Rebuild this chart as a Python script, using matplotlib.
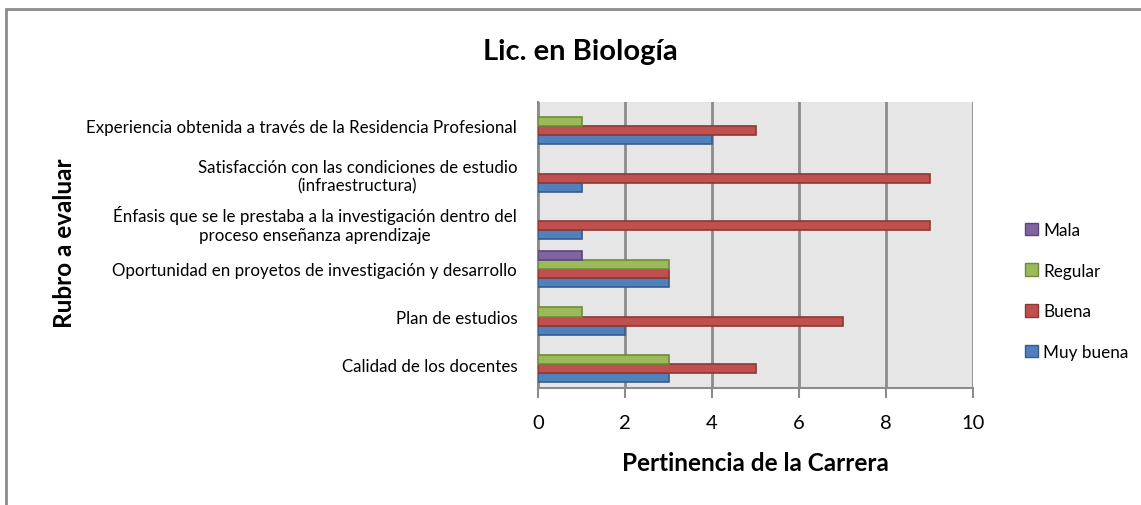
import numpy as np
import matplotlib.pyplot as plt
from matplotlib.patches import Patch

categories = [
    'Calidad de los docentes',
    'Plan de estudios',
    'Oportunidad en proyetos de investigación y desarrollo',
    'Énfasis que se le prestaba a la investigación dentro del\nproceso enseñanza aprendizaje',
    'Satisfacción con las condiciones de estudio\n(infraestructura)',
    'Experiencia obtenida a través de la Residencia Profesional',
]
muy_buena = [3, 2, 3, 1, 1, 4]
buena = [5, 7, 3, 9, 9, 5]
regular = [3, 1, 3, 0, 0, 1]
mala = [0, 0, 1, 0, 0, 0]

series = [
    ('Muy buena', muy_buena, '#4F81BD', '#385D8A'),
    ('Buena', buena, '#C0504D', '#8C3836'),
    ('Regular', regular, '#9BBB59', '#71893F'),
    ('Mala', mala, '#8064A2', '#5C4776'),
]

plt.rcParams['font.family'] = ['Lato', 'DejaVu Sans']

fig = plt.figure(figsize=(11.41, 5.06), dpi=100)
# outer chart border (only left and top visible in reference)
fig.add_artist(plt.Rectangle((6 / 1141, -0.1), 1.2, 1 - 10 / 506 + 0.1,
                             transform=fig.transFigure, fill=False,
                             edgecolor='#8c8c8c', linewidth=2))

ax = fig.add_axes([538 / 1141, 1 - 389 / 506, 435 / 1141, 286 / 506])
ax.set_facecolor('#E6E6E6')

y = np.arange(len(categories))
h = 0.19
for i, (name, vals, col, edge) in enumerate(series):
    lw = [1.2 if v else 0 for v in vals]
    ax.barh(y + (i - 1.5) * h, vals, height=h, color=col, edgecolor=edge,
            linewidth=lw, label=name, zorder=3)

ax.set_xlim(0, 10)
ax.set_ylim(-0.5, len(categories) - 0.5)
ax.set_xticks(range(0, 11, 2))
ax.set_yticks(y)
ax.set_yticklabels(categories, fontsize=12.2, multialignment='center')
ax.tick_params(axis='y', length=0, pad=15)
ax.tick_params(axis='x', labelsize=14.5, length=7, width=1.5, color='#8c8c8c', pad=12)
ax.grid(axis='x', color='#8c8c8c', linewidth=2, zorder=1)
for s in ['top', 'right']:
    ax.spines[s].set_visible(False)
for s in ['left', 'bottom']:
    ax.spines[s].set_color('#8c8c8c')
    ax.spines[s].set_linewidth(1.5)

ax.set_xlabel('Pertinencia de la Carrera', fontsize=17.5, fontweight='bold', labelpad=14)
fig.text(65 / 1141, 1 - 243 / 506, 'Rubro a evaluar', rotation=90, fontsize=17.5,
         fontweight='bold', ha='center', va='center')
fig.text(580 / 1141, 1 - 52 / 506, 'Lic. en Biología', fontsize=21,
         fontweight='bold', ha='center', va='center')

handles = [Patch(facecolor=c, edgecolor=e, label=n) for n, _, c, e in series][::-1]
fig.legend(handles=handles, loc='center left', bbox_to_anchor=(1010 / 1141, 1 - 292 / 506),
           frameon=False, fontsize=12.3, handlelength=0.75, handleheight=0.75,
           handletextpad=0.3, labelspacing=1.45)

fig.savefig('out.png', dpi=100)
